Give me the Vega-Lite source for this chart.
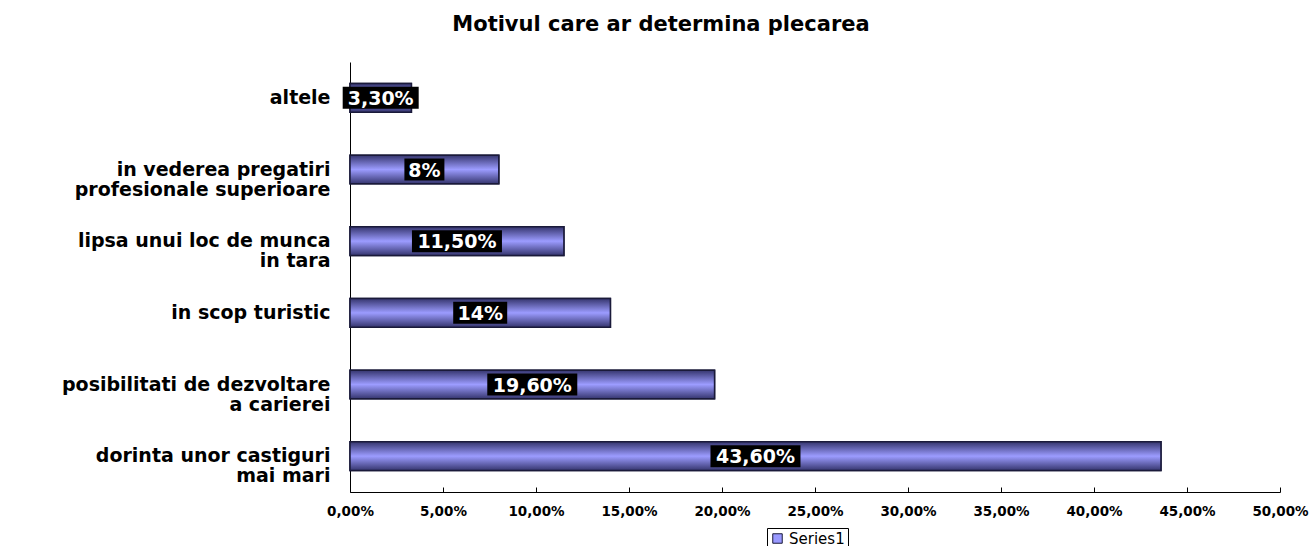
{
  "$schema": "https://vega.github.io/schema/vega-lite/v6.json",
  "autosize": "none",
  "padding": {"left": 350, "top": 62, "right": 36, "bottom": 54},
  "width": 930,
  "height": 430,
  "background": "white",
  "title": {
    "text": "Motivul care ar determina plecarea",
    "font": "DejaVu Sans",
    "fontWeight": "bold",
    "fontSize": 21,
    "color": "black",
    "anchor": "middle",
    "frame": "group",
    "dx": -154,
    "baseline": "alphabetic",
    "offset": 10
  },
  "data": {
    "values": [
      {"reason": "altele", "value": 0.033, "label": "3,30%", "series": "Series1"},
      {"reason": "in vederea pregatiri|profesionale superioare", "value": 0.08, "label": "8%", "series": "Series1"},
      {"reason": "lipsa unui loc de munca|in tara", "value": 0.115, "label": "11,50%", "series": "Series1"},
      {"reason": "in scop turistic", "value": 0.14, "label": "14%", "series": "Series1"},
      {"reason": "posibilitati de dezvoltare|a carierei", "value": 0.196, "label": "19,60%", "series": "Series1"},
      {"reason": "dorinta unor castiguri|mai mari", "value": 0.436, "label": "43,60%", "series": "Series1"}
    ]
  },
  "encoding": {
    "y": {
      "field": "reason",
      "type": "nominal",
      "sort": null,
      "scale": {"paddingInner": 0.6, "paddingOuter": 0.3},
      "axis": {
        "title": null,
        "ticks": false,
        "tickSize": 0,
        "domainColor": "black",
        "domainWidth": 1,
        "labelExpr": "split(datum.label, '|')",
        "labelFont": "DejaVu Sans",
        "labelFontWeight": "bold",
        "labelFontSize": 19,
        "labelLineHeight": 20,
        "labelColor": "black",
        "labelPadding": 20,
        "labelAlign": "right",
        "labelBaseline": "middle",
        "labelLimit": 400
      }
    }
  },
  "layer": [
    {
      "mark": {"type": "bar", "stroke": "#1a1a3a", "strokeWidth": 1.5},
      "encoding": {
        "x": {
          "field": "value",
          "type": "quantitative",
          "scale": {"domain": [0, 0.5], "nice": false},
          "axis": {
            "title": null,
            "values": [0, 0.05, 0.1, 0.15, 0.2, 0.25, 0.3, 0.35, 0.4, 0.45, 0.5],
            "labelExpr": "replace(format(datum.value, '.2%'), '.', ',')",
            "grid": false,
            "domainColor": "black",
            "domainWidth": 1,
            "tickColor": "black",
            "tickSize": -5,
            "labelPadding": 17,
            "labelFont": "DejaVu Sans",
            "labelFontWeight": "bold",
            "labelFontSize": 13.5,
            "labelColor": "black",
            "labelFlush": false,
            "labelOverlap": false
          }
        },
        "color": {
          "field": "series",
          "type": "nominal",
          "scale": {"range": ["#9999ff"]},
          "legend": {
            "title": null,
            "orient": "none",
            "legendX": 417,
            "legendY": 466,
            "strokeColor": "black",
            "fillColor": "white",
            "padding": 3,
            "symbolType": "square",
            "symbolSize": 90,
            "symbolStrokeColor": "#1a1a3a",
            "symbolStrokeWidth": 1,
            "symbolOpacity": 1,
            "labelFont": "DejaVu Sans",
            "labelFontSize": 15,
            "labelColor": "black"
          }
        }
      }
    },
    {
      "mark": {
        "type": "bar",
        "stroke": "#1a1a3a",
        "strokeWidth": 1.5,
        "fill": {
          "gradient": "linear",
          "x1": 0, "y1": 0, "x2": 0, "y2": 1,
          "stops": [
            {"offset": 0, "color": "#35356e"},
            {"offset": 0.5, "color": "#9c9cff"},
            {"offset": 1, "color": "#35356e"}
          ]
        }
      },
      "encoding": {
        "x": {"field": "value", "type": "quantitative", "scale": {"domain": [0, 0.5], "nice": false}, "axis": null}
      }
    },
    {
      "mark": {"type": "point", "filled": true, "fill": "black", "opacity": 1, "strokeWidth": 0, "size": 4},
      "encoding": {
        "x": {"field": "value", "type": "quantitative", "scale": {"domain": [0, 1], "nice": false}, "axis": null},
        "shape": {
          "field": "label",
          "type": "nominal",
          "scale": {
            "domain": ["3,30%", "8%", "11,50%", "14%", "19,60%", "43,60%"],
            "range": [
              "M-38,-11H38V11H-38Z",
              "M-20,-11H20V11H-20Z",
              "M-45,-11H45V11H-45Z",
              "M-27,-11H27V11H-27Z",
              "M-45,-11H45V11H-45Z",
              "M-45,-11H45V11H-45Z"
            ]
          },
          "legend": null
        }
      }
    },
    {
      "mark": {
        "type": "text",
        "color": "white",
        "font": "DejaVu Sans",
        "fontWeight": "bold",
        "fontSize": 19,
        "align": "center",
        "baseline": "middle",
        "dy": 1
      },
      "encoding": {
        "x": {"field": "value", "type": "quantitative", "scale": {"domain": [0, 1], "nice": false}, "axis": null},
        "text": {"field": "label"}
      }
    }
  ],
  "resolve": {"scale": {"x": "independent"}},
  "config": {
    "view": {"stroke": null},
    "axis": {"grid": false}
  }
}
